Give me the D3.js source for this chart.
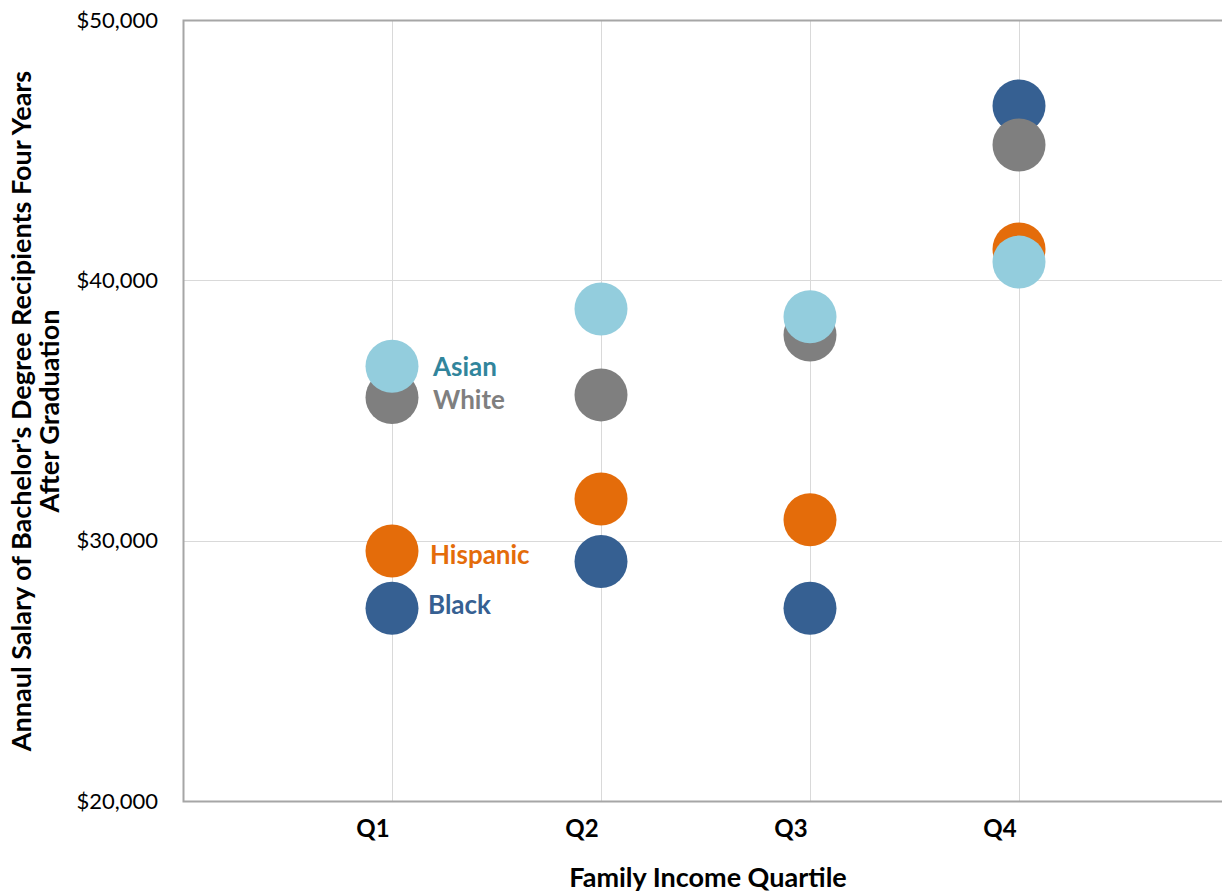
<!DOCTYPE html>
<meta charset="utf-8">
<style>
    body { margin: 0; background: #fff; }
    text { font-family: Lato, "Open Sans", sans-serif; }
    .grid line { stroke: #d9d9d9; stroke-width: 1; }
    .tick-y { font-size: 22px; fill: #000; }
    .tick-x { font-size: 24px; font-weight: bold; fill: #000; }
    .title { font-size: 27px; font-weight: bold; fill: #000; }
    .lbl { font-size: 26px; font-weight: bold; }
</style>
<svg width="1222" height="892"></svg>
<script src="https://cdn.jsdelivr.net/npm/d3@7"></script>
<script>

    // data
    var quartiles = ["Q1", "Q2", "Q3", "Q4"];
    var groups = ["Black", "Hispanic", "White", "Asian"];   // drawing order
    var black    = [27400, 29200, 27400, 46700];
    var hispanic = [29600, 31600, 30800, 41200];
    var white    = [35500, 35600, 37900, 45200];
    var asian    = [36700, 38900, 38600, 40700];
    var yTicks = [20000, 30000, 40000, 50000];

    var values = { Black: black, Hispanic: hispanic, White: white, Asian: asian };
    var fill = { Black: "#366092", Hispanic: "#e46c0a", White: "#7f7f7f", Asian: "#93cddd" };
    var labelColor = { Black: "#366092", Hispanic: "#e46c0a", White: "#7f7f7f", Asian: "#31859c" };

    var svg = d3.select("svg"),
        margin = {top: 20, right: -6, bottom: 91, left: 183},
        width = +svg.attr("width") - margin.left - margin.right,
        height = +svg.attr("height") - margin.top - margin.bottom;

    var g = svg.append("g")
        .attr("transform", "translate(" + margin.left + "," + margin.top + ")");

    var x = d3.scaleLinear().domain([0, 5]).range([0, width]);
    var y = d3.scaleLinear().domain([20000, 50000]).range([height, 0]);

    // gridlines
    g.append("g").attr("class", "grid")
        .selectAll("line.v").data(quartiles).enter().append("line")
        .attr("x1", function(d, i) { return Math.round(x(i + 1)) + 0.5; })
        .attr("x2", function(d, i) { return Math.round(x(i + 1)) + 0.5; })
        .attr("y1", 0).attr("y2", height);
    g.select(".grid")
        .selectAll("line.h").data(yTicks.slice(1, 3)).enter().append("line")
        .attr("x1", 0).attr("x2", width)
        .attr("y1", function(d) { return Math.round(y(d)) + 0.5; })
        .attr("y2", function(d) { return Math.round(y(d)) + 0.5; });

    // frame: top, left, bottom
    g.append("path")
        .attr("d", "M" + width + ",0.5H0.5V" + (height + 0.5) + "H" + width)
        .attr("fill", "none")
        .attr("stroke", "#a6a6a6")
        .attr("stroke-width", 2);

    // y tick labels
    g.selectAll(".tick-y").data(yTicks).enter().append("text")
        .attr("class", "tick-y")
        .attr("x", -25)
        .attr("y", function(d) { return y(d); })
        .attr("dy", "0.35em")
        .attr("text-anchor", "end")
        .text(function(d) { return "$" + d3.format(",")(d); });

    // x tick labels
    g.selectAll(".tick-x").data(quartiles).enter().append("text")
        .attr("class", "tick-x")
        .attr("x", function(d, i) { return x(i + 1) - 19; })
        .attr("y", height + 36)
        .attr("text-anchor", "middle")
        .text(function(d) { return d; });

    // points
    groups.forEach(function(grp) {
        g.selectAll(".pt-" + grp).data(values[grp]).enter().append("circle")
            .attr("class", "pt-" + grp)
            .attr("cx", function(d, i) { return x(i + 1); })
            .attr("cy", function(d) { return y(d); })
            .attr("r", 26.5)
            .attr("fill", fill[grp]);
    });

    // series labels next to Q1
    var lblOffset = { Asian: 41, White: 41, Hispanic: 38, Black: 36 };
    var lblShift = { Asian: 1, White: 2, Hispanic: 4, Black: -3 };
    groups.forEach(function(grp) {
        g.append("text")
            .attr("class", "lbl")
            .attr("x", x(1) + lblOffset[grp])
            .attr("y", y(values[grp][0]) + lblShift[grp])
            .attr("dy", "0.35em")
            .attr("fill", labelColor[grp])
            .text(grp);
    });

    // axis titles
    svg.append("text")
        .attr("class", "title")
        .attr("x", 708)
        .attr("y", 887)
        .attr("text-anchor", "middle")
        .text("Family Income Quartile");

    var yt = svg.append("text")
        .attr("class", "title")
        .attr("transform", "translate(31,411) rotate(-90)")
        .attr("text-anchor", "middle");
    yt.append("tspan").attr("x", 0).attr("dy", 0)
        .text("Annaul Salary of Bachelor's Degree Recipients  Four Years");
    yt.append("tspan").attr("x", 0).attr("dy", 28)
        .text("After Graduation");

</script>
